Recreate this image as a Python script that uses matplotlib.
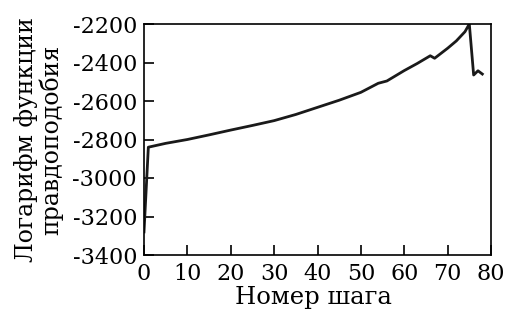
import matplotlib
matplotlib.use("Agg")
import matplotlib.pyplot as plt

steps = [0, 1, 5, 10, 15, 20, 25, 30, 35, 40, 45, 50, 54, 56, 60, 63, 66, 67, 70, 72, 74, 75, 76, 77, 78]
loglik = [-3280, -2840, -2820, -2800, -2776, -2751, -2727, -2702, -2670, -2633, -2596, -2555, -2508, -2496,
          -2442, -2405, -2365, -2378, -2326, -2288, -2240, -2200, -2465, -2443, -2460]
xticks = [0, 10, 20, 30, 40, 50, 60, 70, 80]
yticks = [-3400, -3200, -3000, -2800, -2600, -2400, -2200]

plt.rcParams['font.family'] = ['DejaVu Serif']
fig = plt.figure(figsize=(5.06, 3.14), dpi=100)
ax = fig.add_axes([144/506, 1-255/314, (491-144)/506, (255-24)/314])
ax.plot(steps, loglik, color='#1a1a1a', lw=2.0)
ax.set_xlim(0, 80)
ax.set_ylim(-3400, -2200)
ax.set_xticks(xticks)
ax.set_yticks(yticks)
ax.set_xticklabels([str(t) for t in xticks])
ax.set_yticklabels([f"-{abs(t)}" for t in yticks])
ax.tick_params(direction='in', length=7, width=1.2, labelsize=16)
ax.tick_params(axis='x', pad=6)
ax.tick_params(axis='y', pad=5)
for s in ax.spines.values():
    s.set_linewidth(1.2)
ax.set_xlabel("Номер шага", fontsize=17.5)
ax.xaxis.set_label_coords(0.487, -0.135)
ax.set_ylabel("Логарифм функции\nправдоподобия", fontsize=17, linespacing=1.05)
ax.yaxis.set_label_coords(-0.232, 0.5)
fig.savefig("out.png", dpi=100)
